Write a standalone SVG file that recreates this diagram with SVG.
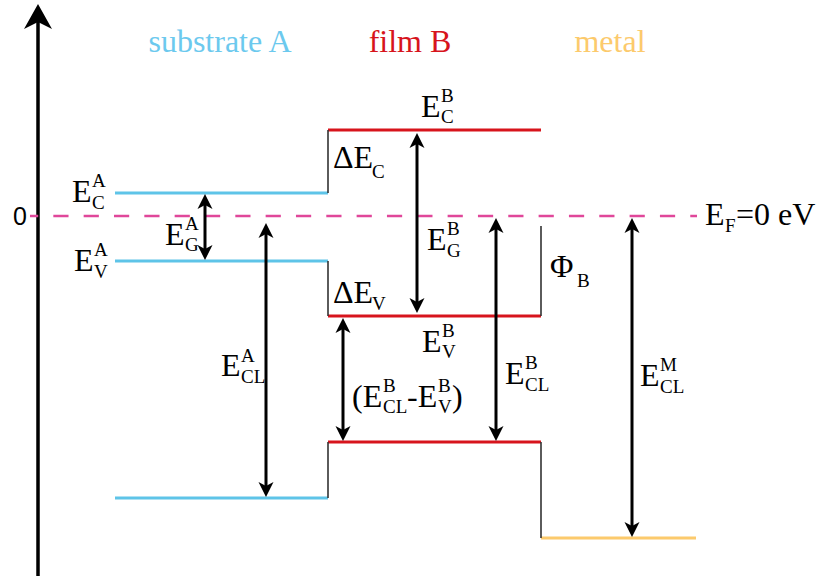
<svg xmlns="http://www.w3.org/2000/svg" width="819" height="576" viewBox="0 0 819 576">
<style>
  text { font-family: 'Liberation Serif', 'Times New Roman', Tinos, 'DejaVu Serif', serif; fill: #000; }
  .m { font-size: 32px; }
  .s { font-size: 19px; }
  .blue { stroke: #5ec4e8; stroke-width: 3; fill: none; }
  .red { stroke: #d7141c; stroke-width: 3; fill: none; }
  .orange { stroke: #fcca6c; stroke-width: 3; fill: none; }
  .step { stroke: #333; stroke-width: 1.6; fill: none; }
  .arr { stroke: #000; stroke-width: 3; fill: none; marker-start: url(#ah); marker-end: url(#ah); }
</style>
<defs>
  <marker id="ah" viewBox="-10 -10 20 20" markerWidth="20" markerHeight="20" refX="0" refY="0" markerUnits="userSpaceOnUse" orient="auto-start-reverse">
    <path d="M7,0 L-8,-7.5 L-4,0 L-8,7.5 Z" fill="#000"/>
  </marker>
</defs>
<rect width="819" height="576" fill="#fff"/>

<g id="axis">
  <line x1="38" y1="576" x2="38" y2="20" stroke="#000" stroke-width="3.5"/>
  <polygon points="38,4 52,29 38,22 24,29" fill="#000"/>
  <text x="13" y="225" style="font-family:'Liberation Sans',Arial,sans-serif;font-size:25px">0</text>
</g>

<g id="fermi">
  <line x1="30" y1="216" x2="697" y2="216" stroke="#e0479a" stroke-width="2.5" stroke-dasharray="15.2 15.13" stroke-dashoffset="7"/>
  <text class="m" x="705" y="225">E<tspan class="s" x="725" y="232">F</tspan><tspan x="736" y="225">=0 eV</tspan></text>
</g>

<g id="titles">
  <text x="220" y="52" text-anchor="middle" style="font-size:32px;fill:#6cc9ee">substrate A</text>
  <text x="410" y="52" text-anchor="middle" style="font-size:32px;fill:#d7141c">film B</text>
  <text x="610" y="52" text-anchor="middle" style="font-size:32px;fill:#fcca6c">metal</text>
</g>

<g id="substrate">
  <line class="blue" x1="115" y1="193" x2="328" y2="193"/>
  <line class="blue" x1="115" y1="261" x2="328" y2="261"/>
  <line class="blue" x1="115" y1="498" x2="328" y2="498"/>
  <text class="m" x="72" y="202">E<tspan class="s" x="92" y="187">A</tspan><tspan class="s" x="92" y="209">C</tspan></text>
  <text class="m" x="74" y="271">E<tspan class="s" x="94" y="256">A</tspan><tspan class="s" x="94" y="278">V</tspan></text>
</g>

<g id="film">
  <line class="red" x1="328" y1="130" x2="541" y2="130"/>
  <line class="red" x1="328" y1="316" x2="541" y2="316"/>
  <line class="red" x1="328" y1="442" x2="541" y2="442"/>
  <text class="m" x="421" y="117">E<tspan class="s" x="441" y="102">B</tspan><tspan class="s" x="441" y="123">C</tspan></text>
  <text class="m" x="422" y="352">E<tspan class="s" x="442" y="337">B</tspan><tspan class="s" x="442" y="358">V</tspan></text>
</g>

<g id="metal">
  <line class="orange" x1="541" y1="538" x2="696" y2="538"/>
</g>

<g id="connectors">
  <line class="step" x1="328" y1="130" x2="328" y2="193"/>
  <line class="step" x1="328" y1="261" x2="328" y2="316"/>
  <line class="step" x1="328" y1="442" x2="328" y2="498"/>
  <line class="step" x1="541" y1="226" x2="541" y2="316"/>
  <line class="step" x1="541" y1="442" x2="541" y2="538"/>
  <line class="arr" x1="205" y1="201" x2="205" y2="253"/>
  <line class="arr" x1="266" y1="230" x2="266" y2="490"/>
  <line class="arr" x1="417" y1="140" x2="417" y2="306"/>
  <line class="arr" x1="343" y1="325" x2="343" y2="434"/>
  <line class="arr" x1="496" y1="225" x2="496" y2="434"/>
  <line class="arr" x1="632" y1="225" x2="632" y2="530"/>
</g>

<g id="labels">
  <text class="m" x="165" y="245">E<tspan class="s" x="185" y="230">A</tspan><tspan class="s" x="185" y="251">G</tspan></text>
  <text class="m" x="221" y="376">E<tspan class="s" x="241" y="362">A</tspan><tspan class="s" x="241" y="383">CL</tspan></text>
  <text class="m" x="333" y="168">ΔE<tspan class="s" x="372" y="178">C</tspan></text>
  <text class="m" x="427" y="250">E<tspan class="s" x="447" y="235">B</tspan><tspan class="s" x="447" y="257">G</tspan></text>
  <text class="m" x="333" y="303">ΔE<tspan class="s" x="372" y="310">V</tspan></text>
  <text class="m" x="352" y="407">(E<tspan class="s" x="383" y="392">B</tspan><tspan class="s" x="383" y="413">CL</tspan><tspan x="407" y="407">-E</tspan><tspan class="s" x="438" y="392">B</tspan><tspan class="s" x="438" y="413">V</tspan><tspan x="452" y="407">)</tspan></text>
  <text class="m" x="505" y="384">E<tspan class="s" x="525" y="369">B</tspan><tspan class="s" x="525" y="391">CL</tspan></text>
  <text class="m" x="640" y="386">E<tspan class="s" x="660" y="371">M</tspan><tspan class="s" x="660" y="393">CL</tspan></text>
  <text class="m" x="550" y="277">Φ<tspan class="s" x="577" y="287">B</tspan></text>
</g>
</svg>
